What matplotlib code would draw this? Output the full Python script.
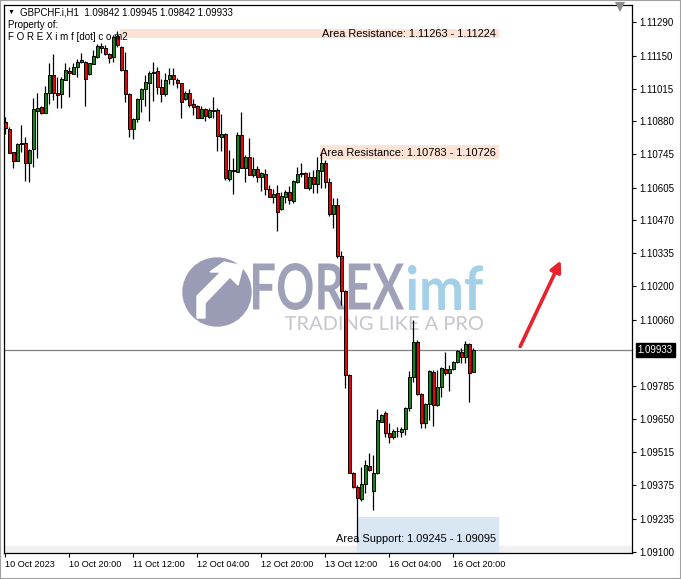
import numpy as np
import matplotlib
matplotlib.use("Agg")
import matplotlib.pyplot as plt
from matplotlib.patches import Rectangle, Circle, PathPatch, Polygon
from matplotlib.textpath import TextPath
from matplotlib.font_manager import FontProperties
from matplotlib.transforms import Affine2D, IdentityTransform

# GBPCHF.i H1 candles (10 Oct 2023 04:00 .. 17 Oct 01:00)
opens = [1.10878, 1.10848, 1.10752, 1.10717, 1.10786, 1.10789, 1.10706, 1.10764, 1.10922, 1.10940,
         1.10915, 1.10995, 1.11071, 1.10997, 1.10991, 1.11050, 1.11087, 1.11075, 1.11103, 1.11123,
         1.11126, 1.11075, 1.11115, 1.11147, 1.11192, 1.11181, 1.11157, 1.11144, 1.11232, 1.11188,
         1.11092, 1.10991, 1.10848, 1.10888, 1.10972, 1.11012, 1.11040, 1.11080, 1.11087, 1.11023,
         1.10991, 1.11053, 1.11071, 1.11050, 1.11037, 1.10972, 1.10995, 1.10951, 1.10943, 1.10895,
         1.10930, 1.10899, 1.10926, 1.10926, 1.10816, 1.10827, 1.10641, 1.10678, 1.10669, 1.10823,
         1.10685, 1.10731, 1.10658, 1.10681, 1.10651, 1.10661, 1.10599, 1.10566, 1.10582, 1.10516,
         1.10568, 1.10587, 1.10552, 1.10630, 1.10660, 1.10667, 1.10605, 1.10648, 1.10621, 1.10676,
         1.10706, 1.10630, 1.10495, 1.10534, 1.10322, 1.10179, 1.09831, 1.09428, 1.09370, 1.09318,
         1.09380, 1.09457, 1.09353, 1.09425, 1.09638, 1.09673, 1.09590, 1.09574, 1.09600, 1.09597,
         1.09607, 1.09694, 1.09822, 1.09969, 1.09753, 1.09632, 1.09710, 1.09845, 1.09707, 1.09781,
         1.09855, 1.09838, 1.09855, 1.09886, 1.09925, 1.09905, 1.09960, 1.09842]
highs = [1.10897, 1.10857, 1.10754, 1.10789, 1.10864, 1.10814, 1.10764, 1.10975, 1.10995, 1.10944,
         1.11026, 1.11119, 1.11158, 1.11064, 1.11064, 1.11119, 1.11105, 1.11119, 1.11136, 1.11163,
         1.11129, 1.11121, 1.11174, 1.11199, 1.11204, 1.11195, 1.11161, 1.11236, 1.11253, 1.11192,
         1.11167, 1.10995, 1.10892, 1.10975, 1.11018, 1.11071, 1.11087, 1.11123, 1.11105, 1.11054,
         1.11078, 1.11099, 1.11099, 1.11057, 1.11040, 1.11005, 1.11013, 1.10971, 1.10947, 1.10944,
         1.10933, 1.10936, 1.10981, 1.10936, 1.10910, 1.10830, 1.10761, 1.10729, 1.10834, 1.10919,
         1.10740, 1.10809, 1.10731, 1.10695, 1.10671, 1.10681, 1.10616, 1.10599, 1.10616, 1.10589,
         1.10596, 1.10612, 1.10637, 1.10690, 1.10709, 1.10671, 1.10671, 1.10678, 1.10734, 1.10747,
         1.10720, 1.10644, 1.10563, 1.10563, 1.10345, 1.10183, 1.09836, 1.09432, 1.09377, 1.09453,
         1.09480, 1.09510, 1.09501, 1.09690, 1.09670, 1.09684, 1.09632, 1.09607, 1.09615, 1.09618,
         1.09698, 1.09849, 1.10059, 1.09976, 1.09756, 1.09714, 1.09852, 1.09852, 1.09852, 1.09866,
         1.09928, 1.09873, 1.09891, 1.09935, 1.09942, 1.09973, 1.09962, 1.09945]
lows = [1.10827, 1.10747, 1.10685, 1.10716, 1.10754, 1.10634, 1.10630, 1.10692, 1.10727, 1.10910,
        1.10912, 1.10951, 1.10968, 1.10933, 1.10933, 1.11050, 1.10979, 1.11075, 1.11064, 1.11119,
        1.10943, 1.11071, 1.11115, 1.11141, 1.11161, 1.11154, 1.11122, 1.11126, 1.11185, 1.11087,
        1.10961, 1.10814, 1.10805, 1.10876, 1.10919, 1.10944, 1.10881, 1.10965, 1.10992, 1.10961,
        1.10985, 1.11033, 1.11030, 1.11018, 1.10895, 1.10968, 1.10940, 1.10906, 1.10892, 1.10892,
        1.10882, 1.10895, 1.10895, 1.10758, 1.10758, 1.10637, 1.10633, 1.10578, 1.10669, 1.10685,
        1.10630, 1.10658, 1.10648, 1.10630, 1.10593, 1.10575, 1.10566, 1.10541, 1.10428, 1.10513,
        1.10541, 1.10538, 1.10541, 1.10626, 1.10651, 1.10603, 1.10596, 1.10582, 1.10585, 1.10603,
        1.10603, 1.10488, 1.10439, 1.10315, 1.10121, 1.09776, 1.09425, 1.09363, 1.09141, 1.09312,
        1.09343, 1.09436, 1.09274, 1.09422, 1.09638, 1.09574, 1.09552, 1.09566, 1.09574, 1.09576,
        1.09583, 1.09684, 1.09804, 1.09749, 1.09611, 1.09611, 1.09645, 1.09621, 1.09703, 1.09739,
        1.09831, 1.09767, 1.09852, 1.09880, 1.09882, 1.09882, 1.09721, 1.09842]
closes = [1.10851, 1.10750, 1.10717, 1.10785, 1.10786, 1.10706, 1.10761, 1.10930, 1.10935, 1.10915,
          1.10998, 1.11071, 1.10995, 1.10990, 1.11053, 1.11092, 1.11078, 1.11103, 1.11123, 1.11133,
          1.11053, 1.11119, 1.11150, 1.11191, 1.11181, 1.11157, 1.11142, 1.11227, 1.11195, 1.11092,
          1.10991, 1.10847, 1.10889, 1.10972, 1.11013, 1.11041, 1.11078, 1.11085, 1.11023, 1.10991,
          1.11050, 1.11071, 1.11053, 1.11039, 1.10958, 1.10995, 1.10947, 1.10940, 1.10895, 1.10930,
          1.10903, 1.10926, 1.10922, 1.10820, 1.10827, 1.10644, 1.10678, 1.10674, 1.10823, 1.10685,
          1.10731, 1.10658, 1.10681, 1.10648, 1.10667, 1.10599, 1.10568, 1.10579, 1.10506, 1.10571,
          1.10587, 1.10554, 1.10633, 1.10661, 1.10667, 1.10605, 1.10648, 1.10621, 1.10678, 1.10706,
          1.10630, 1.10495, 1.10534, 1.10322, 1.10179, 1.09831, 1.09428, 1.09370, 1.09322, 1.09380,
          1.09460, 1.09439, 1.09425, 1.09645, 1.09666, 1.09590, 1.09574, 1.09600, 1.09598, 1.09610,
          1.09694, 1.09822, 1.09969, 1.09753, 1.09632, 1.09710, 1.09849, 1.09707, 1.09783, 1.09859,
          1.09838, 1.09855, 1.09886, 1.09932, 1.09907, 1.09960, 1.09841, 1.09933]

tick_bars = [0, 16, 32, 48, 64, 80, 96, 112]
tick_labels = ['10 Oct 2023', '10 Oct 20:00', '11 Oct 12:00', '12 Oct 04:00',
               '12 Oct 20:00', '13 Oct 12:00', '16 Oct 04:00', '16 Oct 20:00']
price_ticks = [1.11290, 1.11150, 1.11015, 1.10880, 1.10745, 1.10605, 1.10470, 1.10335,
               1.10200, 1.10060, 1.09785, 1.09650, 1.09515, 1.09375, 1.09235, 1.09100]

# zones: (name, high, low)
zone_names = ['Area Resistance', 'Area Resistance', 'Area Support']
zone_high = [1.11263, 1.10783, 1.09245]
zone_low = [1.11224, 1.10726, 1.09095]
zone_start = [28.75, 78.75, 88.0]
zone_color = ['#fde3d6', '#fde3d6', '#d9e7f5']

W, H = 681, 579
font = ['Liberation Sans', 'DejaVu Sans']
plt.rcParams['font.family'] = font

fig = plt.figure(figsize=(W / 100, H / 100), dpi=100)
ax = fig.add_axes([4 / W, 26 / H, 628 / W, 548 / H])
ax.set_xlim(-0.25, 156.75)
ax.set_ylim(1.0909587, 1.1136033)

o = np.array(opens); h = np.array(highs); l = np.array(lows); c = np.array(closes)
x = np.arange(len(o))

def px(xp, yp):
    # image pixel (from top-left) -> display coords
    return xp, H - yp

# watermark
circ = Circle(px(217, 292), 34, transform=IdentityTransform(), color='#9a9cb6', zorder=0.5)
ax.add_patch(circ)
arrow_pts = [px(197, 318), px(197, 296), px(221, 272), px(210, 272), px(224, 262),
             px(243, 266), px(238, 285), px(230, 277), px(205, 303), px(205, 318)]
ax.add_patch(Polygon(arrow_pts, closed=True, transform=IdentityTransform(), color='white', zorder=0.6))

def fit_text(s, x0, y0, x1, y1, color, weight='bold', family='Lato'):
    tp = TextPath((0, 0), s, size=100, prop=FontProperties(family=family, weight=weight))
    bb = tp.get_extents()
    tr = Affine2D().translate(-bb.x0, -bb.y0).scale((x1 - x0) / bb.width, (y1 - y0) / bb.height)
    tr = tr.translate(x0, H - y1)
    ax.add_patch(PathPatch(tp, transform=tr + IdentityTransform(), color=color, lw=0, zorder=0.5))

fit_text('FOREX', 253, 263, 404, 310, '#9fa1b8')
fit_text('imf', 408, 265, 483, 310, '#a3d0e8')
fit_text('TRADING LIKE A PRO', 285, 316, 483, 330, '#c6c6cd', weight='normal')

# zones
for name, hi, lo, xs, col in zip(zone_names, zone_high, zone_low, zone_start, zone_color):
    ax.add_patch(Rectangle((xs, lo), 123.5 - xs, hi - lo, facecolor=col, edgecolor='none', zorder=1))
    ax.text(122.8, lo + 0.4 * (hi - lo), '%s: %.5f - %.5f' % (name, hi, lo),
            ha='right', va='center', fontsize=7.9, color='black', zorder=5)

# bottom strip
ax.axhspan(1.0909587, 1.091248, color='#f0f0f0', zorder=0.8)

# candles
ax.vlines(x, l, h, color='black', lw=0.9, zorder=3)
cols = np.where(c > o, '#0b8a0b', np.where(c < o, '#ee0000', 'black'))
body_lo = np.minimum(o, c)
body_h = np.maximum(np.abs(c - o), 0.00003)
ax.bar(x, body_h, bottom=body_lo, width=0.75, color=cols, edgecolor='black', linewidth=0.7, zorder=4)

# current price
ax.axhline(closes[-1], color='#7f7f7f', lw=0.9, zorder=2)
ax.text(1.009, closes[-1], '%.5f' % closes[-1], transform=ax.get_yaxis_transform(),
        ha='left', va='center', fontsize=7.0, color='white', zorder=6,
        bbox=dict(boxstyle='square,pad=0.2', facecolor='black', edgecolor='black'))

# axes
ax.yaxis.tick_right()
ax.set_yticks(price_ticks)
ax.set_yticklabels(['%.5f' % p for p in price_ticks])
ax.set_xticks(tick_bars)
ax.set_xticklabels(tick_labels, ha='left')
ax.tick_params(axis='both', direction='out', length=3, width=0.8, labelsize=6.6, pad=2, colors='black')
ax.tick_params(axis='y', labelsize=7.0, pad=2.5)
for s in ax.spines.values():
    s.set_color('black')
    s.set_linewidth(0.9)

# header
ax.text(0.006, 0.987, '\u25bc', transform=ax.transAxes, fontsize=5, va='center', ha='left', zorder=6)
ax.text(0.025, 0.987, 'GBPCHF.i,H1  %.5f %.5f %.5f %.5f' % (opens[-1], highs[-1], lows[-1], closes[-1]),
        transform=ax.transAxes, fontsize=7.0, va='center', ha='left', zorder=6)
ax.text(0.006, 0.964, 'Property of:', transform=ax.transAxes, fontsize=7.0, va='center', ha='left', zorder=6)
ax.text(0.006, 0.942, 'F O R E X i m f [dot] c o m2', transform=ax.transAxes, fontsize=7.0,
        va='center', ha='left', zorder=6)
ax.plot([0.981], [0.996], marker='v', color='#8c8c8c', markersize=6.5, markeredgewidth=0,
        transform=ax.transAxes, clip_on=False, zorder=6)

# red arrow
ax.annotate('', xy=(562, H - 258), xytext=(519, H - 349), xycoords='figure pixels',
            textcoords='figure pixels',
            arrowprops=dict(arrowstyle='-|>', color='#e8212b', lw=2.6, mutation_scale=16))

# outer frame
fig.patches.append(Rectangle((0, 0), 1, 1, transform=fig.transFigure, fill=False,
                             edgecolor='#a0a0a0', lw=1.5))

fig.savefig('out.png', dpi=100)
